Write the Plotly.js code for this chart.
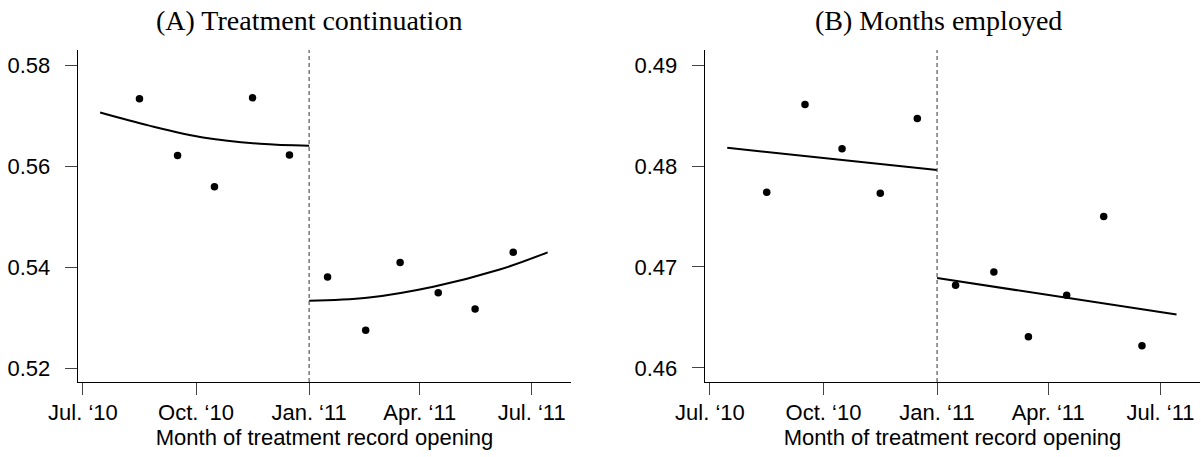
<!DOCTYPE html>
<html>
<head>
<meta charset="utf-8">
<script src="https://cdn.plot.ly/plotly-3.0.1.min.js"></script>
<style>
html,body{margin:0;padding:0;background:#fff;}
#chart{width:1201px;height:457px;}
</style>
</head>
<body>
<div id="chart"></div>
<script>
// Tick labels (dates)
const tickDates = ['2010-07-01','2010-10-01','2011-01-01','2011-04-01','2011-07-01'];
const tickLabels = ['Jul. \u201810','Oct. \u201810','Jan. \u201811','Apr. \u201811','Jul. \u201811'];
const cutoffDate = '2011-01-01';

// Binned monthly means (mid-month)
const preDates  = ['2010-08-16','2010-09-16','2010-10-16','2010-11-16','2010-12-16'];
const postDates = ['2011-01-16','2011-02-16','2011-03-16','2011-04-16','2011-05-16','2011-06-16'];

// Panel A: Treatment continuation
const A_pre  = [0.5733, 0.5621, 0.5559, 0.5735, 0.5622];
const A_post = [0.5380, 0.5275, 0.5409, 0.5349, 0.5317, 0.5429];
const A_fitPreDates  = ['2010-07-15','2010-08-24','2010-10-08','2010-11-22','2011-01-01'];
const A_fitPre       = [0.5706, 0.5680, 0.5656, 0.5644, 0.5640];
const A_fitPostDates = ['2011-01-01','2011-02-17','2011-04-12','2011-06-05','2011-07-14'];
const A_fitPost      = [0.5333, 0.5339, 0.5361, 0.5395, 0.5429];
const A_ticks = [0.52, 0.54, 0.56, 0.58];

// Panel B: Months employed
const B_pre  = [0.4774, 0.4861, 0.4817, 0.4773, 0.4847];
const B_post = [0.4682, 0.4695, 0.4631, 0.4672, 0.4750, 0.4622];
const B_fitPreDates  = ['2010-07-15','2011-01-01'];
const B_fitPre       = [0.4818, 0.4796];
const B_fitPostDates = ['2011-01-01','2011-07-14'];
const B_fitPost      = [0.4689, 0.4653];
const B_ticks = [0.46, 0.47, 0.48, 0.49];

const titles = ['(A) Treatment continuation', '(B) Months employed'];
const xTitle = 'Month of treatment record opening';

const mk = {color:'#000', size:7.5, symbol:'circle'};
const ln = {color:'#000', width:2};

function pts(x, y, xa, ya){ return {x:x, y:y, type:'scatter', mode:'markers', marker:mk, xaxis:xa, yaxis:ya, showlegend:false, hoverinfo:'x+y'}; }
function fit(x, y, xa, ya){ return {x:x, y:y, type:'scatter', mode:'lines', line:Object.assign({shape:'spline', smoothing:1}, ln), xaxis:xa, yaxis:ya, showlegend:false}; }

const data = [
  fit(A_fitPreDates, A_fitPre, 'x', 'y'),
  fit(A_fitPostDates, A_fitPost, 'x', 'y'),
  pts(preDates, A_pre, 'x', 'y'),
  pts(postDates, A_post, 'x', 'y'),
  fit(B_fitPreDates, B_fitPre, 'x2', 'y2'),
  fit(B_fitPostDates, B_fitPost, 'x2', 'y2'),
  pts(preDates, B_pre, 'x2', 'y2'),
  pts(postDates, B_post, 'x2', 'y2')
];

const tickFont = {family:'Liberation Sans, Arial, sans-serif', size:22, color:'#000'};
function xax(domain, anchor){
  return {
    type:'date', domain:domain, anchor:anchor,
    range:['2010-06-27','2011-08-02'],
    tickmode:'array', tickvals:tickDates, ticktext:tickLabels,
    ticks:'outside', ticklen:12, tickwidth:1, tickcolor:'#444',
    showline:true, linecolor:'#000', linewidth:1.3,
    showgrid:false, zeroline:false,
    tickfont:tickFont, ticklabelstandoff:-2,
    title:{text:xTitle, font:tickFont, standoff:2}
  };
}
function yax(domain, anchor, range, ticks){
  return {
    domain:domain, anchor:anchor, range:range,
    tickmode:'array', tickvals:ticks, tickformat:'.2f',
    ticks:'outside', ticklen:12, tickwidth:1, tickcolor:'#444',
    showline:true, linecolor:'#000', linewidth:1.3,
    showgrid:false, zeroline:false,
    tickfont:tickFont, ticklabelstandoff:10
  };
}

const yDom = [75/457, 407/457];
const titleFont = {family:'Liberation Serif, serif', size:28, color:'#000'};
const layout = {
  width:1201, height:457,
  margin:{l:0, r:0, t:0, b:0},
  paper_bgcolor:'#fff', plot_bgcolor:'#fff',
  showlegend:false,
  xaxis: xax([78/1201, 571/1201], 'y'),
  yaxis: yax(yDom, 'x', [0.51723, 0.58297], A_ticks),
  xaxis2: xax([705/1201, 1200/1201], 'y2'),
  yaxis2: yax(yDom, 'x2', [0.45861, 0.49149], B_ticks),
  shapes:[
    {type:'line', xref:'x', yref:'y domain', x0:cutoffDate, x1:cutoffDate, y0:0, y1:1, line:{color:'#555', width:1.2, dash:'4px,3px'}},
    {type:'line', xref:'x2', yref:'y2 domain', x0:cutoffDate, x1:cutoffDate, y0:0, y1:1, line:{color:'#555', width:1.2, dash:'4px,3px'}}
  ],
  annotations:[
    {text:titles[0], xref:'paper', yref:'paper', x:309/1201, y:1-20/457, xanchor:'center', yanchor:'middle', showarrow:false, font:titleFont},
    {text:titles[1], xref:'paper', yref:'paper', x:938/1201, y:1-20/457, xanchor:'center', yanchor:'middle', showarrow:false, font:titleFont}
  ]
};

Plotly.newPlot('chart', data, layout, {displayModeBar:false, staticPlot:true});
</script>
</body>
</html>
